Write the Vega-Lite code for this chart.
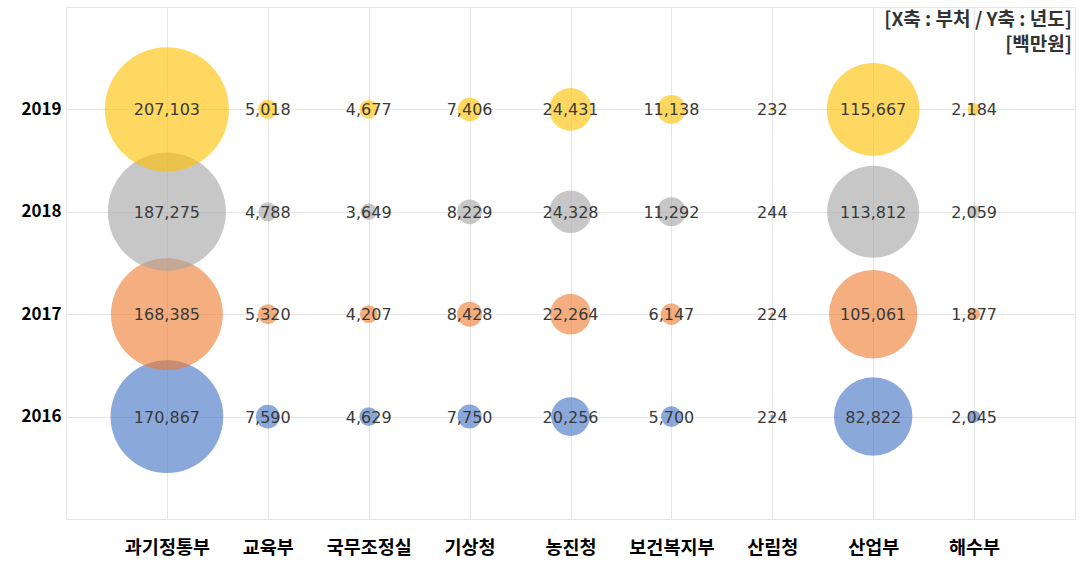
{
  "$schema": "https://vega.github.io/schema/vega-lite/v6.json",
  "width": 1009,
  "height": 512,
  "autosize": {"type": "none"},
  "padding": {"left": 66, "top": 7, "right": 7, "bottom": 55},
  "background": "white",
  "config": {
    "font": "Noto Sans CJK KR",
    "view": {"stroke": "#e6e6e6", "strokeWidth": 1},
    "axis": {"gridColor": "#e6e6e6", "gridWidth": 1}
  },
  "title": {
    "text": ["[X축 : 부처 / Y축 : 년도]", "[백만원]"],
    "anchor": "end",
    "frame": "group",
    "orient": "top",
    "baseline": "top",
    "offset": -48,
    "dx": -3,
    "fontSize": 19,
    "fontWeight": "bold",
    "color": "#333333",
    "lineHeight": 25,
    "font": "Noto Sans CJK KR"
  },
  "data": {
    "values": [
      {"year": "2016", "dept": "과기정통부", "value": 170867},
      {"year": "2016", "dept": "교육부", "value": 7590},
      {"year": "2016", "dept": "국무조정실", "value": 4629},
      {"year": "2016", "dept": "기상청", "value": 7750},
      {"year": "2016", "dept": "농진청", "value": 20256},
      {"year": "2016", "dept": "보건복지부", "value": 5700},
      {"year": "2016", "dept": "산림청", "value": 224},
      {"year": "2016", "dept": "산업부", "value": 82822},
      {"year": "2016", "dept": "해수부", "value": 2045},
      {"year": "2017", "dept": "과기정통부", "value": 168385},
      {"year": "2017", "dept": "교육부", "value": 5320},
      {"year": "2017", "dept": "국무조정실", "value": 4207},
      {"year": "2017", "dept": "기상청", "value": 8428},
      {"year": "2017", "dept": "농진청", "value": 22264},
      {"year": "2017", "dept": "보건복지부", "value": 6147},
      {"year": "2017", "dept": "산림청", "value": 224},
      {"year": "2017", "dept": "산업부", "value": 105061},
      {"year": "2017", "dept": "해수부", "value": 1877},
      {"year": "2018", "dept": "과기정통부", "value": 187275},
      {"year": "2018", "dept": "교육부", "value": 4788},
      {"year": "2018", "dept": "국무조정실", "value": 3649},
      {"year": "2018", "dept": "기상청", "value": 8229},
      {"year": "2018", "dept": "농진청", "value": 24328},
      {"year": "2018", "dept": "보건복지부", "value": 11292},
      {"year": "2018", "dept": "산림청", "value": 244},
      {"year": "2018", "dept": "산업부", "value": 113812},
      {"year": "2018", "dept": "해수부", "value": 2059},
      {"year": "2019", "dept": "과기정통부", "value": 207103},
      {"year": "2019", "dept": "교육부", "value": 5018},
      {"year": "2019", "dept": "국무조정실", "value": 4677},
      {"year": "2019", "dept": "기상청", "value": 7406},
      {"year": "2019", "dept": "농진청", "value": 24431},
      {"year": "2019", "dept": "보건복지부", "value": 11138},
      {"year": "2019", "dept": "산림청", "value": 232},
      {"year": "2019", "dept": "산업부", "value": 115667},
      {"year": "2019", "dept": "해수부", "value": 2184}
    ]
  },
  "encoding": {
    "x": {
      "field": "dept",
      "type": "nominal",
      "sort": null,
      "scale": {"type": "point", "padding": 1},
      "axis": {
        "title": null,
        "labelAngle": 0,
        "labelFontSize": 18.5,
        "labelFontWeight": "bold",
        "labelColor": "#000000",
        "labelPadding": 19,
        "ticks": false,
        "domain": false,
        "grid": true
      }
    },
    "y": {
      "field": "year",
      "type": "ordinal",
      "sort": "descending",
      "scale": {"type": "point", "padding": 1},
      "axis": {
        "title": null,
        "labelFontSize": 17,
        "labelFontWeight": "bold",
        "labelColor": "#000000",
        "labelPadding": 5,
        "ticks": false,
        "domain": false,
        "grid": true
      }
    }
  },
  "layer": [
    {
      "mark": {"type": "circle", "opacity": 0.62, "stroke": null},
      "encoding": {
        "size": {
          "field": "value",
          "type": "quantitative",
          "scale": {"type": "linear", "domain": [0, 207103], "range": [0, 15400], "zero": true},
          "legend": null
        },
        "color": {
          "field": "year",
          "type": "nominal",
          "scale": {"domain": ["2016", "2017", "2018", "2019"], "range": ["#4472C4", "#ED7D31", "#A5A5A5", "#FFC000"]},
          "legend": null
        }
      }
    },
    {
      "mark": {"type": "text", "fontSize": 16, "font": "DejaVu Sans", "color": "#3a3a3a", "baseline": "middle", "align": "center", "dy": 1},
      "encoding": {
        "text": {"field": "value", "type": "quantitative", "format": ","}
      }
    }
  ]
}
